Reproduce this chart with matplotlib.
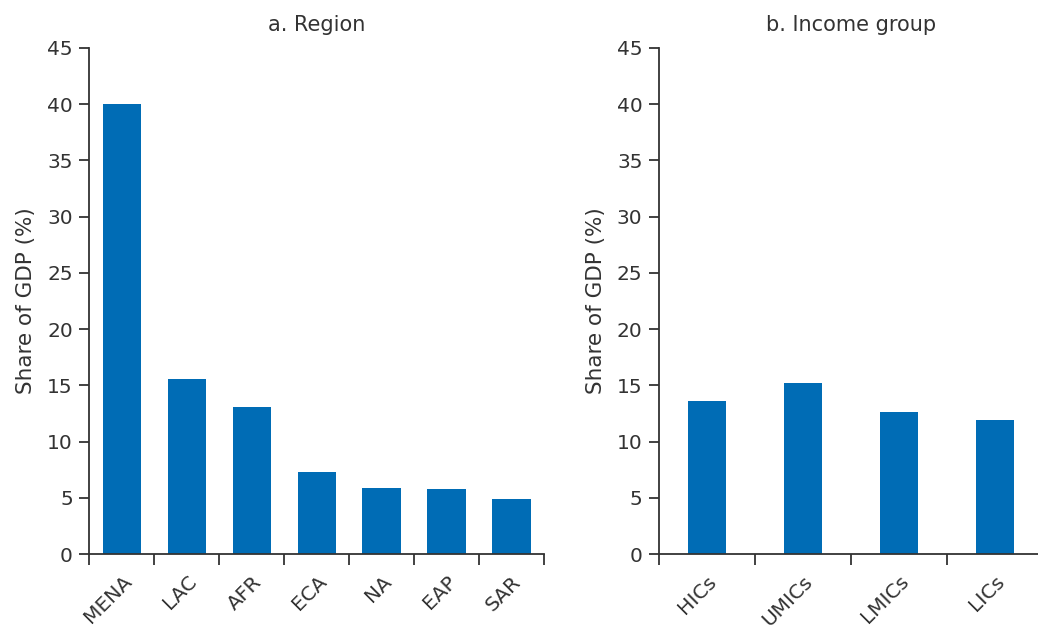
import matplotlib.pyplot as plt
from matplotlib.ticker import FixedLocator

regions = ["MENA", "LAC", "AFR", "ECA", "NA", "EAP", "SAR"]
region_share = [40.0, 15.6, 13.1, 7.3, 5.9, 5.8, 4.9]

income_groups = ["HICs", "UMICs", "LMICs", "LICs"]
income_share = [13.6, 15.2, 12.6, 11.9]

bar_color = "#006cb5"
text_color = "#333333"

plt.rcParams["font.family"] = ["DejaVu Sans"]

fig = plt.figure(figsize=(10.38, 6.30), dpi=100)
ax1 = fig.add_axes([0.0862, 0.1206, 0.4378, 0.8036])
ax2 = fig.add_axes([0.6350, 0.1206, 0.3700, 0.8036])


def panel(ax, cats, vals, width, title):
    n = len(cats)
    x = list(range(n))
    ax.bar(x, vals, width=width, color=bar_color, zorder=2)
    ax.set_xlim(-0.5, n - 0.5)
    ax.set_ylim(0, 45)
    ax.set_yticks(range(0, 46, 5))
    # ticks at category boundaries, labels at the centres
    ax.xaxis.set_major_locator(FixedLocator([i - 0.5 for i in range(n + 1)]))
    ax.xaxis.set_major_formatter(plt.NullFormatter())
    ax.xaxis.set_minor_locator(FixedLocator(x))
    ax.set_xticklabels(cats, minor=True, rotation=45, ha="right",
                       rotation_mode="anchor", fontsize=14.5, color=text_color)
    ax.tick_params(axis="x", which="major", length=8, width=1.3,
                   color=text_color, direction="out")
    ax.tick_params(axis="x", which="minor", length=0, pad=13)
    ax.tick_params(axis="y", length=7, width=1.3, color=text_color,
                   labelsize=14.5, labelcolor=text_color, pad=5)
    for s in ["top", "right"]:
        ax.spines[s].set_visible(False)
    for s in ["left", "bottom"]:
        ax.spines[s].set_color(text_color)
        ax.spines[s].set_linewidth(1.3)
    ax.set_ylabel("Share of GDP (%)", fontsize=15.5, color=text_color, labelpad=8)
    ax.set_title(title, fontsize=15, color=text_color, pad=12)


panel(ax1, regions, region_share, 0.59, "a. Region")
panel(ax2, income_groups, income_share, 0.40, "b. Income group")

fig.savefig("out.png", dpi=100)
